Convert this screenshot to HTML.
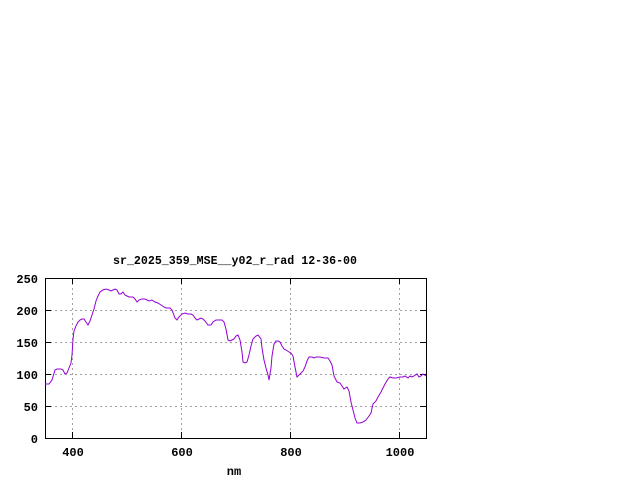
<!DOCTYPE html>
<html><head><style>body{margin:0;background:#fff}svg{display:block}text{font-family:"Liberation Mono",monospace;font-weight:bold;font-size:12px;fill:#000}</style></head><body>
<svg width="640" height="480" viewBox="0 0 640 480">
<g stroke="#a0a0a0" stroke-width="1" stroke-dasharray="2,3">
<line x1="45" y1="406.5" x2="426" y2="406.5"/><line x1="45" y1="374.5" x2="426" y2="374.5"/><line x1="45" y1="342.5" x2="426" y2="342.5"/><line x1="45" y1="310.5" x2="426" y2="310.5"/>
<line x1="72.5" y1="278" x2="72.5" y2="438"/><line x1="181.5" y1="278" x2="181.5" y2="438"/><line x1="290.5" y1="278" x2="290.5" y2="438"/><line x1="399.5" y1="278" x2="399.5" y2="438"/>
</g>
<g stroke="#000" stroke-width="1">
<path d="M45,406.5h6M45,374.5h6M45,342.5h6M45,310.5h6M426,406.5h-6M426,374.5h-6M426,342.5h-6M426,310.5h-6M72.5,438v-6M181.5,438v-6M290.5,438v-6M399.5,438v-6M72.5,278v6M181.5,278v6M290.5,278v6M399.5,278v6"/>
<rect x="45.5" y="278.5" width="381" height="160" fill="none"/>
</g>
<polyline fill="none" stroke="#9400d3" stroke-width="1" points="45,384 49,384 52,380 55,370 57,369 61,369 63,370 65,374 67,373 69,368 71,363 72,355 73,339 74,331 76,326 78,322 80,320 82,319 84,319 86,322 88,325 90,321 92,315 94,309 96,301 98,296 100,292 103,290 106,289 109,290 111,291 113,290 115,289 117,290 119,294 121,294 123,292 125,295 127,296 129,297 133,297 135,299 137,302 139,300 142,299 145,299 147,300 149,301 152,300 155,302 158,303 161,305 164,307 166,308 170,308 172,310 175,318 177,320 179,317 182,314 185,313 188,314 191,314 193,315 195,318 197,320 199,319 201,318 203,319 205,321 208,325 211,325 213,322 216,320 219,320 222,320 224,322 226,329 228,340 230,341 232,340 234,339 236,336 238,335 240,340 242,352 243,362 245,363 247,362 249,355 251,346 253,339 256,336 258,335 261,339 262,348 264,360 266,368 268,375 269,380 271,368 272,356 274,344 276,341 278,341 280,342 282,346 284,349 286,350 289,352 291,353 293,356 295,367 297,377 300,374 303,371 305,367 307,361 309,357 312,357 314,358 316,357 320,357 324,358 328,358 330,361 332,365 334,376 337,382 340,383 342,386 344,389 347,387 349,391 351,402 353,410 355,418 357,423 360,423 363,422 366,420 369,416 371,413 373,404 376,401 378,397 381,392 383,388 385,384 388,379 390,377 393,378 396,378 400,377 403,377 405,376 408,378 410,376 412,377 414,376 417,374 419,377 421,376 423,374 426,376"/>
<g text-anchor="end">
<text x="38" y="443">0</text><text x="38" y="411">50</text><text x="38" y="379">100</text><text x="38" y="347">150</text><text x="38" y="315">200</text><text x="38" y="283">250</text>
</g>
<g text-anchor="middle">
<text x="73" y="456">400</text><text x="182" y="456">600</text><text x="291" y="456">800</text><text x="400" y="456">1000</text>
<text x="235" y="264" textLength="244" lengthAdjust="spacingAndGlyphs">sr_2025_359_MSE__y02_r_rad 12-36-00</text>
<text x="234" y="475">nm</text>
</g>
</svg>
</body></html>
